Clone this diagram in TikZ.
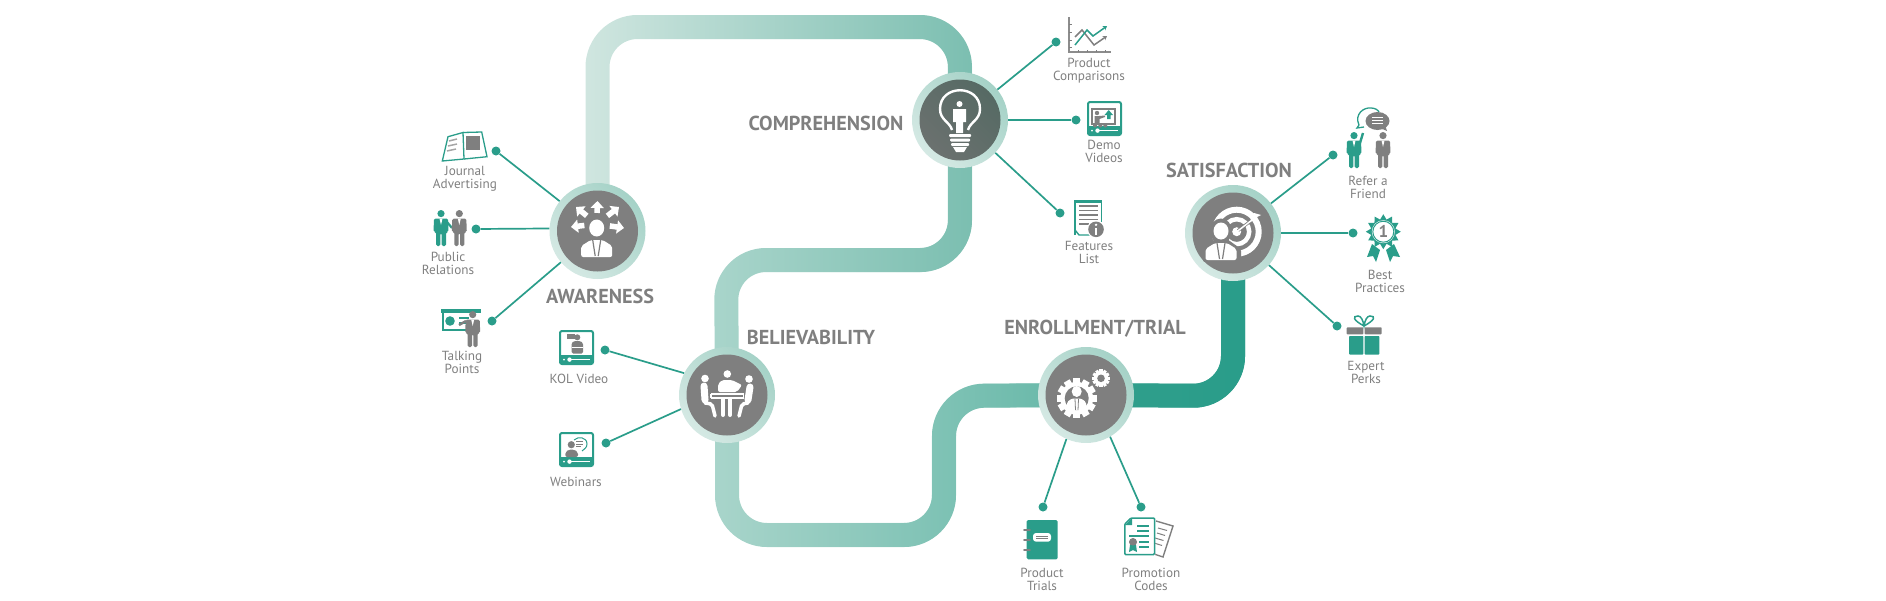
\documentclass[tikz,border=0pt]{standalone}
\usepackage{fontspec}
\setmainfont{PT Sans}
\usepackage{tikz}
\usetikzlibrary{positioning,arrows.meta,backgrounds,fadings,calc}

\definecolor{iconteal}{HTML}{2A9D8A}
\definecolor{stagegray}{HTML}{7F7F7F}
\definecolor{bulbdark}{HTML}{566A64}
\definecolor{bulbsoft}{HTML}{6B716F}
\definecolor{ringlight}{HTML}{D5E9E4}
\definecolor{ringdark}{HTML}{A5D2C7}
\definecolor{bandpale}{HTML}{D0E6E0}
\definecolor{bandsoft}{HTML}{A9D5CB}
\definecolor{bandmid}{HTML}{7CBFB1}
\definecolor{bandrich}{HTML}{62B6A6}
\definecolor{bandfull}{HTML}{32A08D}

\tikzfading[name=bandfade, left color=transparent!100, right color=transparent!0]

% one stretch of the ribbon: #1 left colour, #2 right colour, #3 path
\newcommand{\stagelink}[3]{%
  \draw[band, draw=#1] #3;
  \draw[band, draw=#2, path fading=bandfade] #3;
}

\tikzset{
  % standing man, origin at top centre, 36 high
  pics/man/.style={code={
    \fill[#1] (0,3.6) circle (3.6);
    \fill[#1, rounded corners=1.5] (-7,8.5) -- (7,8.5) -- (7.5,22) -- (5,22) -- (5,36) -- (0.7,36)
      -- (0.7,23) -- (-0.7,23) -- (-0.7,36) -- (-5,36) -- (-5,22) -- (-7.5,22) -- cycle;
    \fill[white] (-1.5,8.5) -- (1.5,8.5) -- (0,15) -- cycle;
  }},
  % white head and shoulders, origin at the head
  pics/bust/.style={code={
    \fill[white] (0,0) ellipse (7.5 and 8.5);
    \fill[white, rounded corners=2] (-15.5,29) -- (-15.5,18) -- (-6,12) -- (6,12) -- (15.5,18) -- (15.5,29) -- cycle;
    \draw[stagegray, line width=1.2] (-4,12) -- (-1.5,28) (4,12) -- (1.5,28);
  }},
  % cog: #1 outer radius, #2 hole radius
  pics/cog/.style n args={2}{code={
    \foreach \a in {0,30,...,330}
      \fill[white, rotate=\a] (-0.17*#1,0) rectangle (0.17*#1,#1);
    \fill[white] (0,0) circle ({0.82*#1});
    \fill[stagegray] (0,0) circle (#2);
  }},
  % screen with player bar, origin at top left, 35 wide
  pics/screen/.style={code={
    \draw[iconteal, line width=2, rounded corners=2] (1,1) rectangle (34,34);
    \fill[iconteal] (1,25) rectangle (34,34);
    \fill[white] (9,28.8) rectangle (31,30.4);
    \fill[white] (10.5,29.6) circle (2.2) (5,29.6) circle (1);
  }}
}

\begin{document}
\begin{tikzpicture}[
    x=1pt, y=-1pt,
    ring/.style={circle, minimum size=96pt, inner sep=0pt, bottom color=ringlight, top color=ringdark, shading angle=-45},
    disc/.style={circle, fill=stagegray, minimum size=81pt, inner sep=0pt},
    dot/.style={circle, fill=iconteal, minimum size=9pt, inner sep=0pt},
    spoke/.style={draw=iconteal, line width=1.7pt},
    band/.style={line width=24pt, rounded corners=40pt},
    stagelabel/.style={font=\fontsize{20.2}{22}\selectfont\bfseries, text=stagegray, inner sep=0pt},
    itemlabel/.style={font=\fontsize{13.2}{13}\selectfont, text=stagegray, align=center, inner sep=0pt}
]
\useasboundingbox (0,0) rectangle (1886,600);

% Stages
\node[ring] (awareness) at (597.5,231) {};
\node[ring] (comprehension) at (960,120) {};
\node[ring] (believability) at (727,395) {};
\node[ring] (enrollment) at (1086,395) {};
\node[ring] (satisfaction) at (1233,233) {};
\node[disc] (awarenessdisc) at (awareness) {};
\node[disc, fill=none, top color=bulbdark, bottom color=bulbsoft, shading angle=-45] (comprehensiondisc) at (comprehension) {};
\node[disc] (believabilitydisc) at (believability) {};
\node[disc] (enrollmentdisc) at (enrollment) {};
\node[disc] (satisfactiondisc) at (satisfaction) {};

% Ribbon between the stages
\begin{scope}[on background layer]
  \stagelink{bandpale}{bandmid}{(awareness.center) -- (597.5,27) -- (960,27) -- (comprehension.center)}
  \stagelink{bandsoft}{bandmid}{(comprehension.center) -- (960,260) -- (726,260) -- (believability.center)}
  \stagelink{bandsoft}{bandrich}{(believability.center) -- (727,535) -- (944,535) -- (944,396) -- (enrollment.center)}
  \stagelink{bandfull}{iconteal}{(enrollment.center) -- (1233,396) -- (satisfaction.center)}
\end{scope}

% Stage titles
\node[stagelabel] (awarenesslabel) at (600,296) {AWARENESS};
\node[stagelabel] (comprehensionlabel) at (826,123) {COMPREHENSION};
\node[stagelabel] (believabilitylabel) at (811,337) {BELIEVABILITY};
\node[stagelabel] (enrollmentlabel) at (1095,329) {ENROLLMENT/TRIAL};
\node[stagelabel] (satisfactionlabel) at (1229,170) {SATISFACTION};

% Awareness items
\node[dot] (journaldot) at (496,151) {};
\node[dot] (publicdot) at (476,229) {};
\node[dot] (talkingdot) at (492,321) {};
\draw[spoke] (awareness) -- (journaldot);
\draw[spoke] (awareness.177) -- (publicdot);
\draw[spoke] (awareness) -- (talkingdot);
\node[itemlabel] (journallabel) at (465,178.5) {Journal\\Advertising};
\node[itemlabel] (publiclabel) at (448,263.5) {Public\\Relations};
\node[itemlabel] (talkinglabel) at (462,362) {Talking\\Points};

% Believability items
\node[dot] (koldot) at (605,350) {};
\node[dot] (webinarsdot) at (606,443) {};
\draw[spoke] (believability.153) -- (koldot);
\draw[spoke] (believability.197) -- (webinarsdot);
\node[itemlabel] (kollabel) at (579,379) {KOL Video};
\node[itemlabel] (webinarslabel) at (576,482) {Webinars};

% Comprehension items
\node[dot] (comparisonsdot) at (1056,42) {};
\node[dot] (demodot) at (1076,120) {};
\node[dot] (featuresdot) at (1060,213) {};
\draw[spoke] (comprehension) -- (comparisonsdot);
\draw[spoke] (comprehension) -- (demodot);
\draw[spoke] (comprehension) -- (featuresdot);
\node[itemlabel] (comparisonslabel) at (1089,70.5) {Product\\Comparisons};
\node[itemlabel] (demolabel) at (1104,151.5) {Demo\\Videos};
\node[itemlabel] (featureslabel) at (1089,252.5) {Features\\List};

% Enrollment items
\node[dot] (trialsdot) at (1043,507) {};
\node[dot] (promotiondot) at (1141,507) {};
\draw[spoke] (enrollment.246) -- (trialsdot);
\draw[spoke] (enrollment.300) -- (promotiondot);
\node[itemlabel] (trialslabel) at (1042,579.5) {Product\\Trials};
\node[itemlabel] (promotionlabel) at (1151,579.5) {Promotion\\Codes};

% Satisfaction items
\node[dot] (referdot) at (1333,155) {};
\node[dot] (bestdot) at (1353,233) {};
\node[dot] (expertdot) at (1337,326) {};
\draw[spoke] (satisfaction) -- (referdot);
\draw[spoke] (satisfaction) -- (bestdot);
\draw[spoke] (satisfaction) -- (expertdot);
\node[itemlabel] (referlabel) at (1368,187.5) {Refer a\\Friend};
\node[itemlabel] (bestlabel) at (1380,281.5) {Best\\Practices};
\node[itemlabel] (expertlabel) at (1366,372.5) {Expert\\Perks};

% Disc icon: awareness
\pic at (596.7,228) {bust};
\foreach \ex/\ey in {597.5/201,576/207,619/207,571/227,624/228}
  \draw[white, line width=5.5pt, -{Triangle[width=13pt,length=7pt]}] ($(596.7,224)!0.48!(\ex,\ey)$) -- (\ex,\ey);

% Disc icon: comprehension
\draw[white, line width=2.4pt] (952,130) .. controls (950,122) and (940,120) .. (940,109) .. controls (940,84) and (980,84) .. (980,109) .. controls (980,120) and (970,122) .. (968,130);
\fill[white] (959.5,104) circle (3);
\fill[white] (953,109) -- (966,109) -- (966,122) -- (963,122) -- (963,133) -- (956,133) -- (956,122) -- (953,122) -- cycle;
\fill[white, rounded corners=1] (949,134) rectangle (971,137) (950,138.5) rectangle (970,141.5) (951,143) rectangle (969,146);
\fill[white] (953,147) -- (967,147) -- (964,152) -- (956,152) -- cycle;

% Disc icon: believability
\fill[white] (705,378.5) circle (3.8) (727.3,374) circle (3.8) (749,379) circle (3.8);
\fill[white, rounded corners=2] (718,392) -- (718,384) -- (722,380) -- (732,380) -- (742,385) -- (737,392) -- cycle;
\draw[white, line width=1.5pt] (711,394) -- (743.5,394) (711,398) -- (743.5,398) (711,394) -- (711,398) (743.5,394) -- (743.5,398);
\draw[white, line width=4pt, line cap=round] (723,399) -- (723,415) (730,399) -- (730,415);
\draw[white, line width=7pt, line cap=round, rounded corners=2pt] (704,386) -- (705,400);
\draw[white, line width=3.5pt, line cap=round, rounded corners=2pt] (705,403) -- (712,404) -- (715,416);
\draw[white, line width=7pt, line cap=round, rounded corners=2pt] (750,387) -- (748,400);
\draw[white, line width=3.5pt, line cap=round, rounded corners=2pt] (748,403) -- (742,404) -- (739,416);

% Disc icon: enrollment
\pic at (1076.7,398.3) {cog={20}{12}};
\pic at (1101,378.3) {cog={9}{3.8}};
\fill[white] (1076.7,391.5) ellipse (5 and 5.5);
\fill[white, rounded corners=1.5] (1067,410.5) -- (1067,402) -- (1072,398.5) -- (1081,398.5) -- (1086,402) -- (1086,410.5) -- cycle;
\draw[stagegray, line width=0.8pt] (1075,399) -- (1075.5,410) (1078.5,399) -- (1078,410);

% Disc icon: satisfaction
\draw[white, line width=6pt] (1236.7,231.7) circle (22);
\draw[white, line width=4.5pt] (1236.7,231.7) circle (12.5);
\fill[white] (1236.7,231.7) circle (4.5);
\draw[stagegray, line width=3pt] (1238,230.5) -- (1254,218.5);
\draw[white, line width=1.5pt] (1237,231.5) -- (1254,218.5);
\fill[white] (1250,216) -- (1254,213) -- (1261,215) -- (1255,218) -- (1258,223) -- (1251,221) -- cycle;
\fill[stagegray] (1221,231) ellipse (11 and 12.5);
\fill[stagegray, rounded corners=2] (1203,262) -- (1203,249) -- (1215,239) -- (1227,239) -- (1241,249) -- (1241,262) -- cycle;
\pic at (1221,231) {bust};

% Journal Advertising
\draw[iconteal, line width=1.3pt] (442.3,161) -- (448,136.7) -- (463,132.5) -- (464,159) -- cycle;
\draw[iconteal, line width=1.3pt] (463,132.5) -- (481.7,132) -- (487,156.7) -- (464,159);
\fill[stagegray] (466,136) rectangle (480,150);
\draw[stagegray!70, line width=1.5pt] (449,141) -- (457,139) (448,146) -- (457,144) (447,151) -- (456,149);

% Public Relations
\pic at (441,210) {man=iconteal};
\pic at (459.3,210) {man=stagegray};
\draw[iconteal, line width=2.2pt] (447,222) -- (452,228);
\draw[stagegray, line width=2.2pt] (452,228) -- (455,224);

% Talking Points
\fill[iconteal] (441,309) rectangle (481,313);
\draw[iconteal, line width=1.3pt] (443,313) -- (443,330) -- (470,330);
\fill[iconteal] (450,321) circle (4.8);
\draw[iconteal, line width=1.2pt] (459,318) -- (469,318) (459,323) -- (467,323);
\pic at (472.7,311) {man=stagegray};
\draw[stagegray, line width=2.4pt] (466,321) -- (459,325);

% KOL Video
\pic at (559,330) {screen};
\fill[stagegray] (577.3,337.3) circle (3);
\fill[stagegray, rounded corners=1.5] (571.5,353.5) -- (571.5,343) -- (574,341) -- (580.5,341) -- (583,343) -- (583,353.5) -- cycle;
\draw[white, line width=0.7pt] (571.5,347) -- (583,347);
\fill[stagegray] (566.5,334) rectangle (574.7,339);

% Webinars
\pic at (559,432) {screen};
\fill[stagegray] (571.3,444.7) circle (3.6);
\fill[stagegray, rounded corners=2] (565.3,457) -- (565.3,452) -- (569,449.5) -- (574,449.5) -- (578,452) -- (578,457) -- cycle;
\draw[iconteal, line width=1pt] (574,440) .. controls (578,436) and (587,437) .. (587,444) .. controls (587,448) and (584,449) .. (582,451);
\draw[stagegray, line width=1pt] (576,441.5) -- (583,441.5) (576,444) -- (583,444) (576,446.5) -- (581,446.5);

% Product Comparisons
\draw[stagegray!90, line width=1.2pt] (1069,17) -- (1069,52) -- (1111,52);
\foreach \t in {24,32,40,47} \draw[stagegray, line width=0.8pt] (1069,\t) -- (1072,\t);
\foreach \t in {1078,1087,1096,1105} \draw[stagegray, line width=0.8pt] (\t,52) -- (\t,50);
\draw[stagegray, line width=1.5pt, -{Stealth[length=4pt,width=5pt]}] (1075,37) -- (1082,30) -- (1094,45) -- (1107,36);
\draw[iconteal, line width=1.5pt, -{Stealth[length=4pt,width=5pt]}] (1075,45) -- (1087,30) -- (1093,36) -- (1107,26);

% Demo Videos
\pic at (1087,101) {screen};
\draw[stagegray, line width=1.2pt] (1092,109) rectangle (1115,124);
\fill[iconteal] (1108.7,110) -- (1113,115) -- (1110.5,115) -- (1110.5,119) -- (1107,119) -- (1107,115) -- (1104.5,115) -- cycle;
\fill[stagegray] (1097,113) circle (2.2) (1095,125.5) circle (2) (1100.3,125.5) circle (2) (1105.3,125.5) circle (2);
\fill[stagegray] (1094.5,116) -- (1099,116) -- (1105,115.5) -- (1105,117) -- (1099.5,119) -- (1099.5,123) -- (1094.5,123) -- cycle;

% Features List
\draw[iconteal, line width=1.4pt] (1075,235) -- (1075,200.7) -- (1101.7,200.7) -- (1101.7,222);
\draw[iconteal, line width=1.4pt] (1075,230) -- (1079,235) -- (1090,235);
\fill[iconteal] (1074.3,200) rectangle (1102.4,202.5);
\draw[stagegray, line width=1.2pt] (1079,206) -- (1098,206) (1079,210.5) -- (1098,210.5) (1079,215) -- (1098,215) (1079,219.5) -- (1098,219.5) (1079,224) -- (1089,224);
\fill[white] (1096,229.3) circle (9);
\fill[stagegray] (1096,229.3) circle (7.8);
\fill[white] (1096,224.8) circle (1.3);
\fill[white] (1094.7,227.5) rectangle (1097.3,234.5);

% Refer a Friend
\pic at (1354,132) {man=iconteal};
\draw[iconteal, line width=2.4pt] (1360,143) -- (1363,133);
\pic at (1383,132) {man=stagegray};
\draw[iconteal, line width=1.3pt] (1359,125) .. controls (1354,114) and (1364,107) .. (1371,108) .. controls (1375,108) and (1378,110) .. (1379,112) (1359,125) -- (1357,128) -- (1364,127);
\fill[stagegray] (1377.5,121) ellipse (12 and 9);
\fill[stagegray] (1380,128) -- (1387,131) -- (1385,125) -- cycle;
\draw[white, line width=1pt] (1372,117.5) -- (1383,117.5) (1372,120.5) -- (1383,120.5) (1372,123.5) -- (1383,123.5);

% Best Practices
\fill[iconteal] (1372,244) -- (1380,250) -- (1376,262) -- (1373,256) -- (1367,257) -- cycle;
\fill[iconteal] (1394,244) -- (1386,250) -- (1390,262) -- (1393,256) -- (1400,257) -- cycle;
\begin{scope}[shift={(1383.3,231.7)}]
  \fill[iconteal] plot[samples=25, domain=0:360] (\x:{15+2.5*cos(12*\x)});
  \fill[white] (0,0) circle (11.5);
  \draw[iconteal, line width=1pt] (0,0) circle (10.5);
  \node[font=\fontsize{17}{17}\selectfont\bfseries, text=stagegray, inner sep=0pt] (bestnumber) at (0,0) {1};
\end{scope}

% Expert Perks
\draw[iconteal, line width=1.5pt] (1364,326) .. controls (1353,320) and (1352,316) .. (1358,316) .. controls (1361,316) and (1363,320) .. (1364,326) .. controls (1365,320) and (1367,316) .. (1370,316) .. controls (1376,316) and (1375,320) .. (1364,326);
\fill[stagegray, rounded corners=0.8] (1346.7,327.3) rectangle (1363.4,334.3) (1364.6,327.3) rectangle (1381.7,334.3);
\fill[iconteal, rounded corners=0.8] (1349,336) rectangle (1363.4,354.5) (1364.6,336) rectangle (1379.3,354.5);

% Product Trials
\fill[iconteal, rounded corners=1.5] (1026.7,520) rectangle (1057.7,559.3);
\fill[white, rounded corners=3] (1033,533) rectangle (1051,541.7);
\draw[stagegray, line width=0.8pt] (1036,536) -- (1048,536) (1036,538.7) -- (1048,538.7);
\draw[stagegray, line width=1.6pt, line cap=round] (1024,530) -- (1030,530) (1024,540) -- (1030,540) (1024,550) -- (1030,550);

% Promotion Codes
\draw[stagegray, line width=1.4pt] (1156,521) -- (1173,526) -- (1163,557) -- (1148,552);
\draw[stagegray, line width=1pt] (1158,528) -- (1167,530.5) (1157,533) -- (1165,535.5) (1155,538) -- (1163.5,540.5) (1154,543) -- (1162,545.5);
\fill[white] (1131,517.3) -- (1155,517.3) -- (1155,555) -- (1124,555) -- (1124,524) -- cycle;
\draw[iconteal, line width=1.5pt, rounded corners=1] (1131,518) -- (1154.5,518) -- (1154.5,554.5) -- (1124.8,554.5) -- (1124.8,524) -- cycle;
\fill[iconteal] (1125,525) -- (1132,518) -- (1132,525) -- cycle;
\draw[iconteal, line width=1.2pt] (1137,526) -- (1149,526) (1137,531) -- (1149,531) (1129,536) -- (1149,536) (1139,542) -- (1149,542) (1139,547) -- (1149,547);
\fill[stagegray] (1133,542) circle (4);
\fill[iconteal] (1130,545) -- (1136,545) -- (1137,552) -- (1133,550) -- (1129,552) -- cycle;
\fill[stagegray] (1133,542) circle (3.5);

\end{tikzpicture}
\end{document}
